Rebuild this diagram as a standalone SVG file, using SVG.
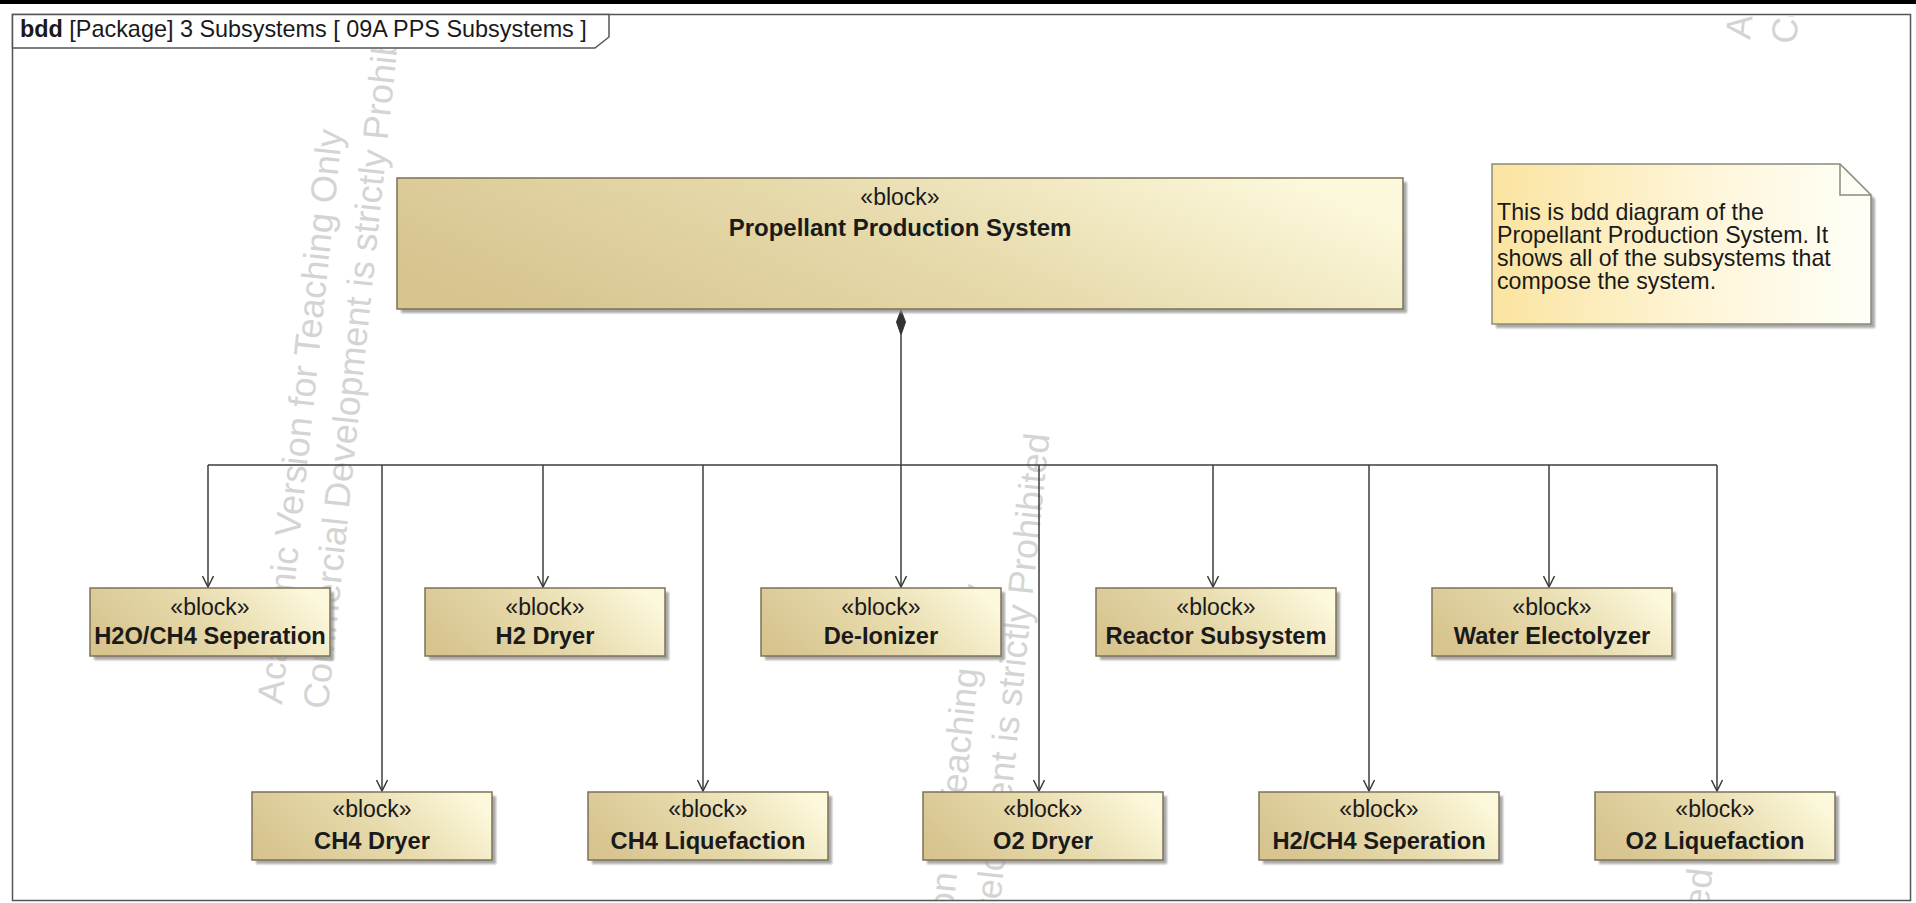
<svg xmlns="http://www.w3.org/2000/svg" width="1916" height="903" viewBox="0 0 1916 903">
  <defs>
    <style>
      .frame { fill: none; stroke: #555; stroke-width: 1.5; }
      .tab { fill: #fff; stroke: #555; stroke-width: 1.5; }
      .blk { fill: url(#blockFill); stroke: #7d7257; stroke-width: 1.5; }
      .shadow { fill: #8c8c8c; opacity: 0.75; filter: url(#soft); }
      .note { fill: url(#noteFill); stroke: #8a8a7a; stroke-width: 1.5; }
      .fold { fill: none; stroke: #8a8a7a; stroke-width: 1.5; }
      .st { font-family: "Liberation Sans", Arial, sans-serif; font-size: 23px; fill: #1a1a1a; text-anchor: middle; }
      .nm { font-weight: bold; font-size: 23.7px; }
      .main { font-size: 24px; }
      .hdr { font-family: "Liberation Sans", Arial, sans-serif; font-size: 23.4px; fill: #1a1a1a; }
      .nt { font-family: "Liberation Sans", Arial, sans-serif; font-size: 23.2px; fill: #1a1a1a; }
      .conn { fill: none; stroke: #3c3c3c; stroke-width: 1.5; }
      .arr { marker-end: url(#open); }
      .wm { font-family: "Liberation Sans", Arial, sans-serif; font-size: 36px; fill: #d4d4d4; }
    </style>
    <linearGradient id="blockFill" x1="0" y1="0.65" x2="1" y2="0.35">
      <stop offset="0" stop-color="#d7c48f"/>
      <stop offset="0.5" stop-color="#e6d9aa"/>
      <stop offset="1" stop-color="#fcf8db"/>
    </linearGradient>
    <linearGradient id="noteFill" x1="0" y1="0" x2="1" y2="0">
      <stop offset="0" stop-color="#fbe4a0"/>
      <stop offset="0.55" stop-color="#fef5d8"/>
      <stop offset="1" stop-color="#fffff8"/>
    </linearGradient>
    <filter id="soft" x="-5%" y="-10%" width="110%" height="130%">
      <feGaussianBlur stdDeviation="1.2"/>
    </filter>
    <marker id="open" viewBox="0 0 13 12" refX="12" refY="6" markerWidth="13" markerHeight="12" markerUnits="userSpaceOnUse" orient="auto">
      <path d="M1,0.5 L12,6 L1,11.5" fill="none" stroke="#3c3c3c" stroke-width="1.5"/>
    </marker>
    <clipPath id="inside">
      <rect x="13" y="16" width="1896" height="884"/>
    </clipPath>
    <g id="wm">
      <text class="wm">Academic Version for Teaching Only</text>
      <text class="wm" y="46">Commercial Development is strictly Prohibited</text>
    </g>
  </defs>

  <rect width="1916" height="903" fill="#fff"/>
  <rect width="1916" height="4" fill="#000"/>

  <!-- tool watermark, behind the model elements -->
  <g id="watermark" clip-path="url(#inside)">
    <use href="#wm" transform="translate(282,705) rotate(-84)"/>
    <use href="#wm" transform="translate(927,1160) rotate(-84)"/>
    <use href="#wm" transform="translate(1750,40) rotate(-84)"/>
    <use href="#wm" transform="translate(1590,1595) rotate(-84)"/>
  </g>

  <!-- diagram frame and name tab -->
  <g id="frame">
    <rect class="frame" x="12.5" y="14.5" width="1898" height="886"/>
    <path class="tab" d="M12.5,14.5 H609 V37 L595,48 H12.5 Z"/>
    <text class="hdr" x="20" y="37"><tspan font-weight="bold">bdd</tspan> [Package] 3 Subsystems [ 09A PPS Subsystems ]</text>
  </g>

  <!-- composition connectors -->
  <g id="connectors">
    <polygon points="901,310 905.5,322 901,335 896.5,322" fill="#333" stroke="#333" stroke-width="1"/>
    <path class="conn arr" d="M901,335 V587"/>
    <path class="conn" d="M208,465 H1717"/>
    <path class="conn arr" d="M208,465 V587"/>
    <path class="conn arr" d="M543,465 V587"/>
    <path class="conn arr" d="M1213,465 V587"/>
    <path class="conn arr" d="M1549,465 V587"/>
    <path class="conn arr" d="M382,465 V791"/>
    <path class="conn arr" d="M703,465 V791"/>
    <path class="conn arr" d="M1039,465 V791"/>
    <path class="conn arr" d="M1369,465 V791"/>
    <path class="conn arr" d="M1717,465 V791"/>
  </g>

  <g id="propellant-production-system">
    <rect class="shadow" x="401" y="182" width="1006" height="131"/>
    <rect class="blk" x="397" y="178" width="1006" height="131"/>
    <text class="st" x="900" y="205">«block»</text>
    <text class="st nm main" x="900" y="236">Propellant Production System</text>
  </g>

  <g id="note">
    <path class="shadow" d="M1496,168 H1844 L1875,199 V328 H1496 Z"/>
    <path class="note" d="M1492,164 H1840 L1871,195 V324 H1492 Z"/>
    <path class="fold" d="M1840,164 V195 H1871"/>
    <text class="nt" x="1497" y="220">This is bdd diagram of the</text>
    <text class="nt" x="1497" y="243">Propellant Production System. It</text>
    <text class="nt" x="1497" y="266">shows all of the subsystems that</text>
    <text class="nt" x="1497" y="289">compose the system.</text>
  </g>

  <g id="h2o-ch4-seperation">
    <rect class="shadow" x="94" y="592" width="240" height="68"/>
    <rect class="blk" x="90" y="588" width="240" height="68"/>
    <text class="st" x="210" y="615">«block»</text>
    <text class="st nm" x="210" y="644">H2O/CH4 Seperation</text>
  </g>
  <g id="h2-dryer">
    <rect class="shadow" x="429" y="592" width="240" height="68"/>
    <rect class="blk" x="425" y="588" width="240" height="68"/>
    <text class="st" x="545" y="615">«block»</text>
    <text class="st nm" x="545" y="644">H2 Dryer</text>
  </g>
  <g id="de-ionizer">
    <rect class="shadow" x="765" y="592" width="240" height="68"/>
    <rect class="blk" x="761" y="588" width="240" height="68"/>
    <text class="st" x="881" y="615">«block»</text>
    <text class="st nm" x="881" y="644">De-Ionizer</text>
  </g>
  <g id="reactor-subsystem">
    <rect class="shadow" x="1100" y="592" width="240" height="68"/>
    <rect class="blk" x="1096" y="588" width="240" height="68"/>
    <text class="st" x="1216" y="615">«block»</text>
    <text class="st nm" x="1216" y="644">Reactor Subsystem</text>
  </g>
  <g id="water-electolyzer">
    <rect class="shadow" x="1436" y="592" width="240" height="68"/>
    <rect class="blk" x="1432" y="588" width="240" height="68"/>
    <text class="st" x="1552" y="615">«block»</text>
    <text class="st nm" x="1552" y="644">Water Electolyzer</text>
  </g>

  <g id="ch4-dryer">
    <rect class="shadow" x="256" y="796" width="240" height="68"/>
    <rect class="blk" x="252" y="792" width="240" height="68"/>
    <text class="st" x="372" y="817">«block»</text>
    <text class="st nm" x="372" y="849">CH4 Dryer</text>
  </g>
  <g id="ch4-liquefaction">
    <rect class="shadow" x="592" y="796" width="240" height="68"/>
    <rect class="blk" x="588" y="792" width="240" height="68"/>
    <text class="st" x="708" y="817">«block»</text>
    <text class="st nm" x="708" y="849">CH4 Liquefaction</text>
  </g>
  <g id="o2-dryer">
    <rect class="shadow" x="927" y="796" width="240" height="68"/>
    <rect class="blk" x="923" y="792" width="240" height="68"/>
    <text class="st" x="1043" y="817">«block»</text>
    <text class="st nm" x="1043" y="849">O2 Dryer</text>
  </g>
  <g id="h2-ch4-seperation">
    <rect class="shadow" x="1263" y="796" width="240" height="68"/>
    <rect class="blk" x="1259" y="792" width="240" height="68"/>
    <text class="st" x="1379" y="817">«block»</text>
    <text class="st nm" x="1379" y="849">H2/CH4 Seperation</text>
  </g>
  <g id="o2-liquefaction">
    <rect class="shadow" x="1599" y="796" width="240" height="68"/>
    <rect class="blk" x="1595" y="792" width="240" height="68"/>
    <text class="st" x="1715" y="817">«block»</text>
    <text class="st nm" x="1715" y="849">O2 Liquefaction</text>
  </g>
</svg>
